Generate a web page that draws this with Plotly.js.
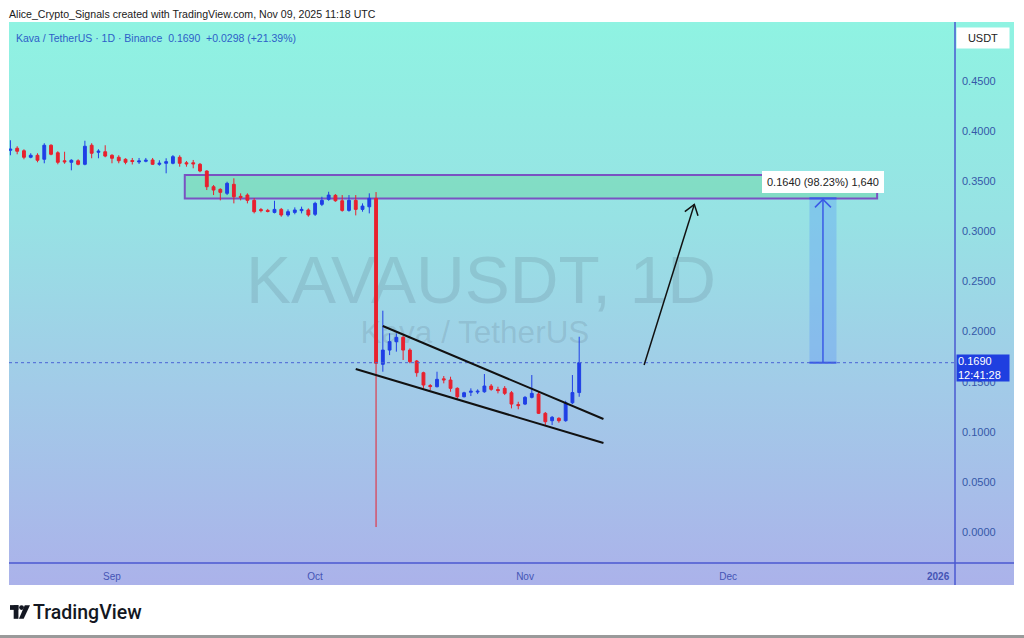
<!DOCTYPE html>
<html><head><meta charset="utf-8">
<script src="https://cdn.plot.ly/plotly-3.0.1.min.js"></script>
<style>
html,body{margin:0;padding:0;background:#fff;}
#wrap{position:relative;width:1024px;height:638px;overflow:hidden;background:#fff;}
#bg{position:absolute;left:9px;top:22px;width:1005px;height:563px;
 background:linear-gradient(to bottom,#8ff3e2 0%,#97e2e4 35%,#a2cbe8 65%,#abb2ea 100%);}
.wm{position:absolute;left:0;width:962px;text-align:center;font-family:"Liberation Sans",Arial,sans-serif;color:rgba(80,95,110,0.17);white-space:nowrap;}
#plot{position:absolute;left:0;top:0;width:1024px;height:638px;}
#logo{position:absolute;left:10px;top:602px;height:20px;display:flex;align-items:center;font-family:Roboto,"Liberation Sans",sans-serif;font-weight:500;font-size:19.5px;color:#131722;}
#bot{position:absolute;left:0;top:635px;width:1024px;height:3px;background:#9a9a9a;}
</style></head>
<body><div id="wrap">
<div id="bg"></div>
<div class="wm" id="wm1" style="top:244px;font-size:67.5px;line-height:72px;">KAVAUSDT, 1D</div>
<div class="wm" id="wm2" style="top:314px;font-size:31.5px;line-height:37px;left:-6px;">Kava / TetherUS</div>
<div id="plot"></div>
<div id="logo"><svg width="20" height="15" viewBox="0 0 19 14" style="margin-right:3px"><rect x="0" y="0" width="8" height="4.5" fill="#131722"/><rect x="3.5" y="0" width="4.5" height="13" fill="#131722"/><circle cx="11" cy="2.3" r="2.3" fill="#131722"/><polygon points="14,0 19,0 13,13 8.5,13" fill="#131722"/></svg><span>TradingView</span></div>
<div id="bot"></div>
</div>
<script>
// ---- data ----
const dates = [
'2025-08-17','2025-08-18','2025-08-19','2025-08-20','2025-08-21','2025-08-22','2025-08-23','2025-08-24','2025-08-25','2025-08-26','2025-08-27','2025-08-28','2025-08-29','2025-08-30','2025-08-31',
'2025-09-01','2025-09-02','2025-09-03','2025-09-04','2025-09-05','2025-09-06','2025-09-07','2025-09-08','2025-09-09','2025-09-10','2025-09-11','2025-09-12','2025-09-13','2025-09-14','2025-09-15',
'2025-09-16','2025-09-17','2025-09-18','2025-09-19','2025-09-20','2025-09-21','2025-09-22','2025-09-23','2025-09-24','2025-09-25','2025-09-26','2025-09-27','2025-09-28','2025-09-29','2025-09-30',
'2025-10-01','2025-10-02','2025-10-03','2025-10-04','2025-10-05','2025-10-06','2025-10-07','2025-10-08','2025-10-09','2025-10-10','2025-10-11','2025-10-12','2025-10-13','2025-10-14','2025-10-15',
'2025-10-16','2025-10-17','2025-10-18','2025-10-19','2025-10-20','2025-10-21','2025-10-22','2025-10-23','2025-10-24','2025-10-25','2025-10-26','2025-10-27','2025-10-28','2025-10-29','2025-10-30','2025-10-31',
'2025-11-01','2025-11-02','2025-11-03','2025-11-04','2025-11-05','2025-11-06','2025-11-07','2025-11-08','2025-11-09'];
const opens = [
.381,.383,.3805,.374,.376,.372,.386,.3785,.3705,.369,.3705,.367,.386,.379,.3795,
.376,.374,.372,.3708,.3693,.370,.3713,.367,.368,.368,.374,.3685,.3685,.367,.3603,
.3446,.342,.338,.347,.335,.3363,.331,.3218,.321,.319,.322,.3164,.319,.3207,.3214,
.3171,.327,.332,.336,.3306,.321,.331,.322,.3246,.333,.1674,.1816,.190,.1943,.1816,
.1707,.159,.1462,.145,.1529,.1517,.1434,.135,.1395,.1397,.140,.1457,.1422,.1434,.139,.1272,
.1277,.1344,.1377,.1185,.1111,.1135,.1111,.129,.1392];
const highs = [
.391,.385,.382,.378,.378,.388,.387,.380,.3795,.372,.372,.3905,.388,.382,.386,
.377,.376,.373,.3733,.3733,.3733,.3733,.371,.373,.3762,.376,.3703,.3713,.3683,.361,
.3463,.343,.3496,.353,.338,.338,.3333,.3234,.3225,.3306,.3234,.322,.324,.3247,.323,
.3296,.3346,.3396,.3373,.3363,.3363,.3363,.328,.338,.3393,.2209,.1983,.1983,.1956,.1833,
.1717,.160,.1477,.160,.1557,.155,.1444,.140,.1434,.1424,.1577,.1477,.145,.1457,.1407,.130,
.1357,.1567,.1397,.1198,.1158,.1145,.131,.1567,.1949];
const lows = [
.376,.377,.372,.373,.369,.368,.376,.367,.3675,.361,.366,.366,.373,.373,.374,
.368,.368,.367,.3668,.3673,.369,.3663,.3656,.358,.367,.3646,.3646,.363,.359,.3413,
.3363,.331,.3363,.328,.331,.328,.318,.319,.319,.318,.3147,.3147,.3171,.318,.3147,
.3154,.3253,.3306,.3296,.3197,.3197,.316,.3197,.318,.005,.160,.1766,.180,.1717,.1684,
.155,.1434,.1417,.1444,.1484,.140,.1317,.1344,.1357,.1377,.139,.141,.1384,.1367,.1234,.1225,
.1267,.1334,.1178,.1068,.1068,.1091,.1101,.1277,.135];
const closes = [
.382,.380,.374,.376,.371,.386,.377,.369,.3695,.371,.367,.385,.378,.380,.3752,
.373,.3705,.369,.3698,.3703,.371,.367,.368,.3696,.3746,.368,.3675,.3675,.3603,.3446,
.3413,.339,.348,.3346,.334,.331,.3197,.3208,.320,.322,.3164,.3197,.3214,.322,.3164,
.328,.331,.3363,.3306,.321,.331,.322,.3253,.333,.1684,.1816,.190,.1943,.1816,.170,
.159,.1467,.1452,.1524,.1519,.1434,.135,.139,.1405,.1405,.1457,.1424,.1412,.1384,.1277,.1262,
.1344,.1384,.1185,.1101,.1145,.1111,.129,.1392,.169];

const priceTicks = [0,0.05,0.10,0.15,0.20,0.25,0.30,0.35,0.40,0.45];
const timeTickVals = ['2025-09-01','2025-10-01','2025-11-01','2025-12-01','2026-01-01'];
const timeTickText = ['Sep','Oct','Nov','Dec','<b>2026</b>'];
const lastPrice = 0.169;

// drawings
const zoneX = ['2025-09-11 18:00','2025-12-23 00:00'];
const zoneY = [0.3329, 0.3563];
const measureX = ['2025-12-13','2025-12-15','2025-12-17'];
const measureY = [0.169, 0.333];
const measureLabel = '0.1640 (98.23%) 1,640';
const arrowX = ['2025-11-18 14:00','2025-11-26 00:00'];
const arrowY = [0.1667, 0.327];
const wedgeUpperX = ['2025-10-11','2025-11-12 14:00'];
const wedgeUpperY = [0.2056, 0.1128];
const wedgeLowerX = ['2025-10-07','2025-11-12 14:00'];
const wedgeLowerY = [0.1627, 0.0888];

const UP='#1f3fe6', DN='#e8212e';
const trace = {
  type:'candlestick', x:dates, open:opens, high:highs, low:lows, close:closes,
  increasing:{line:{color:UP,width:1},fillcolor:UP},
  decreasing:{line:{color:DN,width:1},fillcolor:DN},
  whiskerwidth:0, hoverinfo:'skip', showlegend:false
};

const W=946, H=541; // plot px
const shapes = [
  {type:'rect',xref:'x',yref:'y',x0:zoneX[0],x1:zoneX[1],y0:zoneY[0],y1:zoneY[1],
   line:{color:'#7a52c2',width:2},fillcolor:'rgba(95,205,140,0.35)',layer:'below'},
  {type:'rect',xref:'x',yref:'y',x0:measureX[0],x1:measureX[2],y0:measureY[0],y1:measureY[1],
   line:{width:0},fillcolor:'rgba(80,140,250,0.30)',layer:'below'},
  {type:'line',xref:'x',yref:'y',x0:measureX[1],x1:measureX[1],y0:measureY[0],y1:measureY[1],line:{color:'#3a5ae6',width:1.5}},
  {type:'line',xref:'x',yref:'y',x0:measureX[0],x1:measureX[2],y0:measureY[0],y1:measureY[0],line:{color:'#3a5ae6',width:2}},
  {type:'line',xref:'x',yref:'y',x0:measureX[0],x1:measureX[2],y0:measureY[1],y1:measureY[1],line:{color:'#3a5ae6',width:2}},
  {type:'path',xref:'x',yref:'y',xsizemode:'pixel',ysizemode:'pixel',xanchor:measureX[1],yanchor:measureY[1],
   path:'M -8 -9 L 0 -1 L 8 -9',line:{color:'#3a5ae6',width:1.5}},
  {type:'line',xref:'paper',yref:'y',x0:0,x1:1,y0:lastPrice,y1:lastPrice,line:{color:'#4a63d6',width:1,dash:'dot'}},
  {type:'line',xref:'x',yref:'y',x0:wedgeUpperX[0],x1:wedgeUpperX[1],y0:wedgeUpperY[0],y1:wedgeUpperY[1],line:{color:'#111',width:2}},
  {type:'line',xref:'x',yref:'y',x0:wedgeLowerX[0],x1:wedgeLowerX[1],y0:wedgeLowerY[0],y1:wedgeLowerY[1],line:{color:'#111',width:2}},
  {type:'line',xref:'x',yref:'y',x0:arrowX[0],x1:arrowX[1],y0:arrowY[0],y1:arrowY[1],line:{color:'#111',width:1.5}},
  {type:'path',xref:'x',yref:'y',xsizemode:'pixel',ysizemode:'pixel',xanchor:arrowX[1],yanchor:arrowY[1],
   path:'M -9.5 -7.3 L 0 0 L 3.7 -11.4',line:{color:'#111',width:1.5}},
  // frame lines
  {type:'line',xref:'paper',yref:'paper',x0:0,x1:1005/W,y0:0,y1:0,line:{color:'#4a58d0',width:1.5}},
  {type:'line',xref:'paper',yref:'paper',x0:1,x1:1,y0:-22/H,y1:1,line:{color:'#4a58d0',width:1.5}}
];

const annotations = [
  {xref:'paper',yref:'paper',x:0,y:(563-14)/H,xanchor:'left',yanchor:'middle',showarrow:false,xshift:-2,
   text:'Alice_Crypto_Signals created with TradingView.com, Nov 09, 2025 11:18 UTC',
   font:{family:'Liberation Sans, Arial, sans-serif',size:10.6,color:'#1a1a1a'}},
  {xref:'paper',yref:'paper',x:5/W,y:(563-38)/H,xanchor:'left',yanchor:'middle',showarrow:false,
   text:'Kava / TetherUS · 1D · Binance  0.1690  +0.0298 (+21.39%)',
   font:{family:'Liberation Sans, Arial, sans-serif',size:10.5,color:'#2d5fc8'}},
  {xref:'x',yref:'y',x:measureX[1],y:0.3493,showarrow:false,text:measureLabel,
   bgcolor:'#ffffff',bordercolor:'#ffffff',borderpad:4,
   font:{family:'Liberation Sans, Arial, sans-serif',size:11,color:'#222'}},
  {xref:'paper',yref:'y',x:1,y:0.1637,xanchor:'left',yanchor:'middle',showarrow:false,xshift:1,
   text:'0.1690<br>12:41:28',align:'left',width:50,height:24,bgcolor:'#1f3fe0',borderpad:1,
   font:{family:'Liberation Sans, Arial, sans-serif',size:11,color:'#ffffff'}},
  {xref:'paper',yref:'paper',x:1,y:(563-37.5)/H,xanchor:'left',yanchor:'middle',showarrow:false,xshift:1,
   text:'USDT',width:50,height:18,bgcolor:'#ffffff',borderpad:1,
   font:{family:'Liberation Sans, Arial, sans-serif',size:11,color:'#222'}}
];

const layout = {
  width:1024,height:638,autosize:false,
  margin:{l:9,r:69,t:22,b:75,pad:0},
  paper_bgcolor:'rgba(0,0,0,0)',plot_bgcolor:'rgba(0,0,0,0)',
  boxgap:0.4,
  showlegend:false,hovermode:false,dragmode:false,
  xaxis:{type:'date',range:['2025-08-16 19:00','2026-01-03 12:00'],
    tickvals:timeTickVals,ticktext:timeTickText,showgrid:false,zeroline:false,showline:false,ticks:'',
    tickfont:{family:'Liberation Sans, Arial, sans-serif',size:10,color:'#4555b5'},
    rangeslider:{visible:false},fixedrange:true,ticklabelstandoff:6},
  yaxis:{side:'right',range:[-0.0309,0.509],tickvals:priceTicks,tickformat:'.4f',
    showgrid:false,zeroline:false,showline:false,ticks:'',ticklabelstandoff:6,
    tickfont:{family:'Liberation Sans, Arial, sans-serif',size:11,color:'#3558a8'},fixedrange:true},
  shapes:shapes, annotations:annotations
};
Plotly.newPlot('plot',[trace],layout,{staticPlot:true,displayModeBar:false});
</script>
</body></html>
